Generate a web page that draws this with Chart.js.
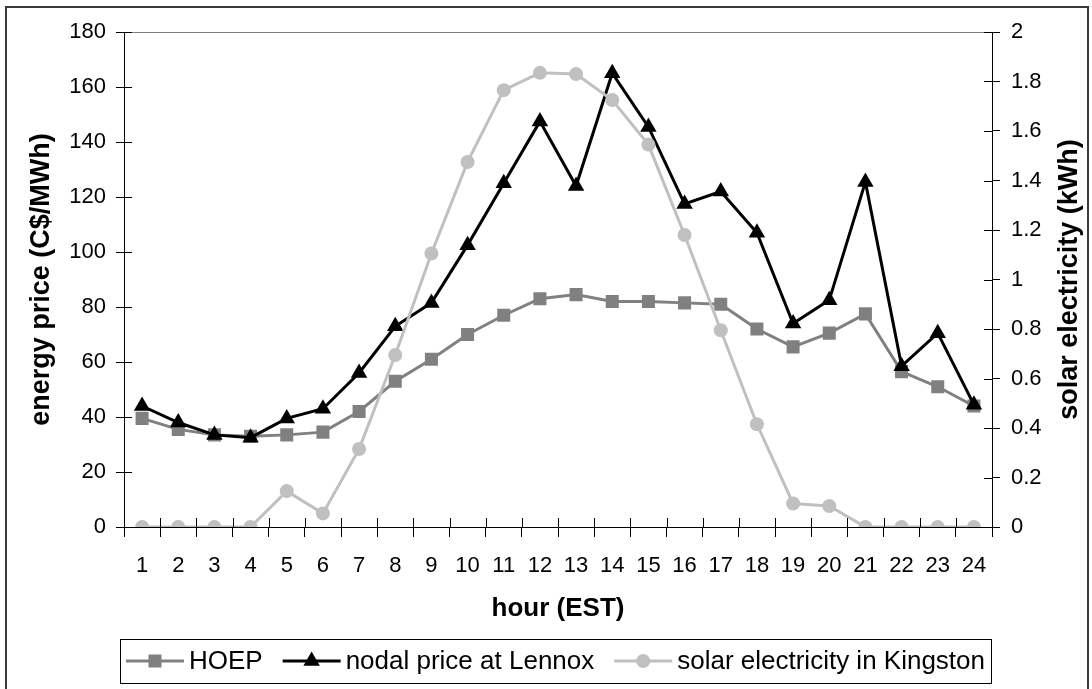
<!DOCTYPE html>
<html><head><meta charset="utf-8">
<script src="https://cdn.jsdelivr.net/npm/chart.js@4.4.0/dist/chart.umd.min.js"></script>
<style>
html,body{margin:0;padding:0;background:#fff;}
#wrap{position:relative;width:1092px;height:689px;overflow:hidden;background:#fff;}
#frame{position:absolute;left:5px;top:6px;width:1084px;height:720px;border:2px solid #3a3a3a;box-sizing:border-box;}
canvas{position:absolute;left:0;top:0;}
</style></head><body>
<div id="wrap"><div id="frame"></div><canvas id="c" width="1092" height="689"></canvas></div>
<script>
const hours = ['1','2','3','4','5','6','7','8','9','10','11','12','13','14','15','16','17','18','19','20','21','22','23','24'];
const hoep = [39.5, 35.5, 33.5, 33, 33.5, 34.5, 42, 53, 61, 70, 77, 83, 84.5, 82, 82, 81.5, 81, 72, 65.5, 70.5, 77.5, 56.5, 51, 44];
const nodal = [44, 38, 33.5, 32.5, 39.5, 43, 56, 73, 81.5, 102.5, 125, 147.5, 124, 165, 145.5, 117.5, 122, 107, 74, 82.5, 125.5, 58.5, 70.5, 44.5];
const solar = [0, 0, 0, 0, 0.145, 0.055, 0.315, 0.695, 1.105, 1.475, 1.765, 1.835, 1.83, 1.725, 1.545, 1.18, 0.795, 0.415, 0.095, 0.085, 0, 0, 0, 0];
const seriesNames = ['HOEP', 'nodal price at Lennox', 'solar electricity in Kingston'];
const priceRange = [0, 180, 20];
const solarRange = [0, 2, 0.2];
const axisTitles = ['hour (EST)', 'energy price (C$/MWh)', 'solar electricity (kWh)'];

const FAM = '"Liberation Sans", Arial, Helvetica, sans-serif';
const tickFont = {family: FAM, size: 22};
const xTitleFont = {family: FAM, size: 26, weight: 'bold'};
const yTitleFont = {family: FAM, size: 27, weight: 'bold'};
const LEGEND_PX = 26;

const extras = {
  id: 'extras',
  afterDraw(chart) {
    const ctx = chart.ctx, a = chart.chartArea;
    const sx = chart.scales.x, sy = chart.scales.y, sy1 = chart.scales.y1;
    ctx.save();
    ctx.strokeStyle = '#808080'; ctx.lineWidth = 1;
    ctx.beginPath(); ctx.moveTo(a.left, a.top + 0.5); ctx.lineTo(a.right, a.top + 0.5); ctx.stroke();
    ctx.strokeStyle = '#000';
    ctx.beginPath();
    sy.ticks.forEach((t, i) => { const y = Math.round(sy.getPixelForTick(i)) + 0.5; ctx.moveTo(a.left, y); ctx.lineTo(a.left + 8, y); });
    sy1.ticks.forEach((t, i) => { const y = Math.round(sy1.getPixelForTick(i)) + 0.5; ctx.moveTo(a.right - 8, y); ctx.lineTo(a.right, y); });
    for (let i = 0; i <= hours.length; i++) { const x = Math.round(sx.getPixelForValue(i - 0.5)) + 0.5; ctx.moveTo(x, a.bottom - 9); ctx.lineTo(x, a.bottom); }
    ctx.stroke();
    ctx.fillStyle = '#000';
    ctx.font = 'bold ' + yTitleFont.size + 'px ' + FAM;
    ctx.textAlign = 'center'; ctx.textBaseline = 'middle';
    ctx.translate(1070, (a.top + a.bottom) / 2);
    ctx.rotate(-Math.PI / 2);
    ctx.fillText(axisTitles[2], 0, 0);
    ctx.restore();

    // legend
    ctx.save();
    ctx.font = LEGEND_PX + 'px ' + FAM;
    const L = 120, R = 991, T = 639, B = 683, cy = (T + B) / 2;
    const symW = 58, gapST = 5, pad = 6;
    const widths = seriesNames.map(n => ctx.measureText(n).width);
    const used = widths.reduce((s, w) => s + w + symW + gapST, 0);
    const itemGap = ((R - L) - 2 * pad - used) / (seriesNames.length - 1);
    ctx.strokeStyle = '#000'; ctx.lineWidth = 1;
    ctx.strokeRect(L + 0.5, T + 0.5, R - L, B - T);
    let x = L + pad;
    chart.data.datasets.forEach((ds, i) => {
      ctx.strokeStyle = ds.borderColor; ctx.lineWidth = 3;
      ctx.beginPath(); ctx.moveTo(x, cy); ctx.lineTo(x + symW, cy); ctx.stroke();
      ctx.fillStyle = ds.pointBackgroundColor; ctx.strokeStyle = ds.pointBorderColor;
      Chart.helpers.drawPoint(ctx, {pointStyle: ds.pointStyle, radius: ds.pointRadius, rotation: 0, borderWidth: 0}, x + symW / 2, cy);
      ctx.fillStyle = '#000'; ctx.textAlign = 'left'; ctx.textBaseline = 'middle';
      ctx.fillText(ds.label, x + symW + gapST, cy + 1);
      x += symW + gapST + widths[i] + itemGap;
    });
    ctx.restore();
  }
};

const chart = new Chart(document.getElementById('c'), {
  type: 'line',
  data: {
    labels: hours,
    datasets: [
      {label: seriesNames[0], data: hoep, yAxisID: 'y', borderColor: '#808080', backgroundColor: '#808080', pointBackgroundColor: '#808080', pointBorderColor: '#808080', borderWidth: 3, pointStyle: 'rect', pointRadius: 9.2, pointBorderWidth: 0, order: 3, tension: 0},
      {label: seriesNames[1], data: nodal, yAxisID: 'y', borderColor: '#000000', backgroundColor: '#000000', pointBackgroundColor: '#000000', pointBorderColor: '#000000', borderWidth: 3, pointStyle: 'triangle', pointRadius: 9.5, pointBorderWidth: 0, order: 2, tension: 0},
      {label: seriesNames[2], data: solar, yAxisID: 'y1', borderColor: '#c0c0c0', backgroundColor: '#c0c0c0', pointBackgroundColor: '#c0c0c0', pointBorderColor: '#c0c0c0', borderWidth: 3, pointStyle: 'circle', pointRadius: 7, pointBorderWidth: 0, order: 1, tension: 0}
    ]
  },
  options: {
    responsive: false, animation: false,
    layout: {padding: {left: 0, right: 0, top: 32, bottom: 0}},
    plugins: {legend: {display: false}, tooltip: {enabled: false}},
    scales: {
      x: {
        type: 'category', offset: true,
        grid: {offset: true, drawOnChartArea: false, color: '#000', tickLength: 10},
        border: {color: '#000', width: 1},
        ticks: {color: '#000', font: tickFont, padding: 16, maxRotation: 0, autoSkip: false},
        title: {display: true, text: axisTitles[0], color: '#000', font: xTitleFont, padding: {top: 0, bottom: 65}},
        afterFit: s => { s.height = 162; }
      },
      y: {
        position: 'left', min: priceRange[0], max: priceRange[1],
        ticks: {stepSize: priceRange[2], color: '#000', font: tickFont, padding: 10},
        grid: {drawOnChartArea: false, color: '#000', tickLength: 8},
        border: {color: '#000', width: 1},
        title: {display: true, text: axisTitles[1], color: '#000', font: yTitleFont, padding: {top: 25, bottom: 0}},
        afterFit: s => { s.width = 124; }
      },
      y1: {
        position: 'right', min: solarRange[0], max: solarRange[1],
        ticks: {stepSize: solarRange[2], color: '#000', font: tickFont, padding: 11, callback: v => String(Number(v.toFixed(1)))},
        grid: {drawOnChartArea: false, color: '#000', tickLength: 8},
        border: {color: '#000', width: 1},
        title: {display: false},
        afterFit: s => { s.width = 100; }
      }
    }
  },
  plugins: [extras]
});
</script>
</body></html>
